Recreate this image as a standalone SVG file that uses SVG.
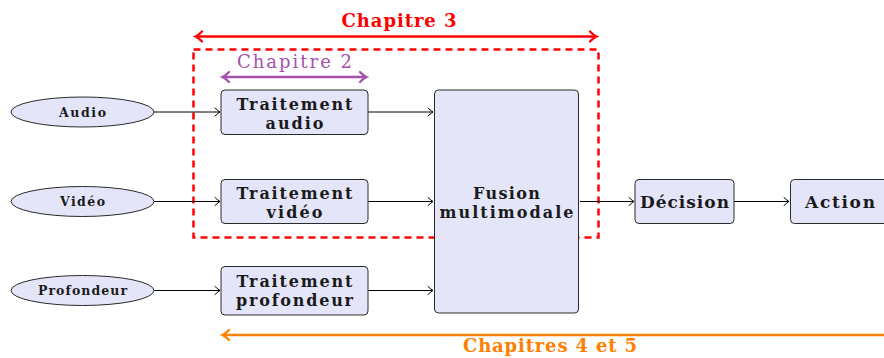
<svg xmlns="http://www.w3.org/2000/svg" width="884" height="358" viewBox="0 0 884 358">
  <style>
    .node { fill: #E5E5FA; stroke: #2a2a2a; stroke-width: 1; }
    .lbl { font-family: "DejaVu Serif", "Liberation Serif", serif; font-weight: bold; fill: #1a1a1a; text-anchor: middle; }
    .big { font-size: 16px; }
    .one { font-size: 17px; }
    .small { font-size: 12.5px; }
    .edge { fill: none; stroke: #000; stroke-width: 1; }
    .span { fill: none; stroke-width: 2.4; }
    .chap { font-family: "DejaVu Serif", "Liberation Serif", serif; font-size: 18px; text-anchor: middle; }
  </style>
  <defs>
    <marker id="tip" markerUnits="userSpaceOnUse" markerWidth="12" markerHeight="12" refX="0" refY="0" viewBox="-8 -6 10 12" orient="auto">
      <path d="M -5 -4 Q -1.5 -0.8 0 0 Q -1.5 0.8 -5 4" fill="none" stroke="#000" stroke-width="1" stroke-linecap="round"/>
    </marker>
    <marker id="tipRed" markerUnits="userSpaceOnUse" markerWidth="14" markerHeight="14" refX="0" refY="0" viewBox="-9 -7 11 14" orient="auto-start-reverse">
      <path d="M -6 -5 Q -2 -1 0.5 0 Q -2 1 -6 5" fill="none" stroke="#FF0000" stroke-width="2.2" stroke-linecap="round"/>
    </marker>
    <marker id="tipPurple" markerUnits="userSpaceOnUse" markerWidth="14" markerHeight="14" refX="0" refY="0" viewBox="-9 -7 11 14" orient="auto-start-reverse">
      <path d="M -6 -5 Q -2 -1 0.5 0 Q -2 1 -6 5" fill="none" stroke="#A650AE" stroke-width="2.2" stroke-linecap="round"/>
    </marker>
    <marker id="tipOrange" markerUnits="userSpaceOnUse" markerWidth="14" markerHeight="14" refX="0" refY="0" viewBox="-9 -7 11 14" orient="auto-start-reverse">
      <path d="M -6 -5 Q -2 -1 0.5 0 Q -2 1 -6 5" fill="none" stroke="#FF8000" stroke-width="2.2" stroke-linecap="round"/>
    </marker>
  </defs>

  <rect width="884" height="358" fill="#fff"/>

  <!-- chapter scope frame -->
  <rect x="193.5" y="49.5" width="405" height="188" fill="none" stroke="#FF0000" stroke-width="2.5" stroke-dasharray="7 5"/>

  <!-- chapter spans -->
  <g id="chapitre3">
    <line class="span" x1="196" y1="36.5" x2="596" y2="36.5" stroke="#FF0000" marker-start="url(#tipRed)" marker-end="url(#tipRed)"/>
    <text class="chap" x="399" y="27" font-weight="bold" fill="#FF0000" textLength="115">Chapitre 3</text>
  </g>
  <g id="chapitre2">
    <line class="span" x1="223" y1="77" x2="366" y2="77" stroke="#A650AE" marker-start="url(#tipPurple)" marker-end="url(#tipPurple)"/>
    <text class="chap" x="294.5" y="68" font-size="20" fill="#A650AE" textLength="115">Chapitre 2</text>
  </g>
  <g id="chapitres45">
    <line class="span" x1="223" y1="335" x2="884" y2="335" stroke="#FF8000" marker-start="url(#tipOrange)"/>
    <text class="chap" x="550" y="352" font-weight="bold" fill="#FF8000" textLength="174">Chapitres 4 et 5</text>
  </g>

  <!-- connectors -->
  <g id="connectors">
    <line class="edge" x1="154" y1="112" x2="220" y2="112" marker-end="url(#tip)"/>
    <line class="edge" x1="154" y1="201.5" x2="220" y2="201.5" marker-end="url(#tip)"/>
    <line class="edge" x1="154" y1="290.5" x2="220" y2="290.5" marker-end="url(#tip)"/>
    <line class="edge" x1="368" y1="112" x2="433" y2="112" marker-end="url(#tip)"/>
    <line class="edge" x1="368" y1="201.5" x2="433" y2="201.5" marker-end="url(#tip)"/>
    <line class="edge" x1="368" y1="290.5" x2="433" y2="290.5" marker-end="url(#tip)"/>
    <line class="edge" x1="580" y1="201.5" x2="634" y2="201.5" marker-end="url(#tip)"/>
    <line class="edge" x1="734" y1="201.5" x2="789" y2="201.5" marker-end="url(#tip)"/>
  </g>

  <!-- sources -->
  <g id="audio">
    <ellipse class="node" cx="82.5" cy="112" rx="71.5" ry="15"/>
    <text class="lbl small" x="82.5" y="116.5" textLength="47">Audio</text>
  </g>
  <g id="video">
    <ellipse class="node" cx="82.5" cy="201.5" rx="71.5" ry="15"/>
    <text class="lbl small" x="82.5" y="206" textLength="45">Vidéo</text>
  </g>
  <g id="profondeur">
    <ellipse class="node" cx="82.5" cy="290.5" rx="71.5" ry="15"/>
    <text class="lbl small" x="82.5" y="295" textLength="89">Profondeur</text>
  </g>

  <!-- processing blocks -->
  <g id="traitement-audio">
    <rect class="node" x="221" y="90" width="147" height="44.5" rx="4"/>
    <text class="lbl big" x="294.5" y="109.5" textLength="116">Traitement</text>
    <text class="lbl big" x="294.5" y="128.5" textLength="58">audio</text>
  </g>
  <g id="traitement-video">
    <rect class="node" x="221" y="179.5" width="147" height="44" rx="4"/>
    <text class="lbl big" x="294.5" y="199" textLength="116">Traitement</text>
    <text class="lbl big" x="294.5" y="218" textLength="56">vidéo</text>
  </g>
  <g id="traitement-profondeur">
    <rect class="node" x="221" y="266.5" width="147" height="48.5" rx="4"/>
    <text class="lbl big" x="294.5" y="286.5" textLength="116">Traitement</text>
    <text class="lbl big" x="294.5" y="305.5" textLength="117">profondeur</text>
  </g>

  <!-- fusion -->
  <g id="fusion">
    <rect class="node" x="434.5" y="90" width="144" height="223" rx="4"/>
    <text class="lbl big" x="506.5" y="198.5" textLength="67">Fusion</text>
    <text class="lbl big" x="506.5" y="217.5" textLength="134">multimodale</text>
  </g>

  <!-- decision and action -->
  <g id="decision">
    <rect class="node" x="635" y="179.5" width="99" height="44" rx="4"/>
    <text class="lbl one" x="684.5" y="208" textLength="89">Décision</text>
  </g>
  <g id="action">
    <rect class="node" x="790.5" y="179.5" width="100" height="44" rx="4"/>
    <text class="lbl one" x="840" y="208" textLength="70">Action</text>
  </g>
</svg>
